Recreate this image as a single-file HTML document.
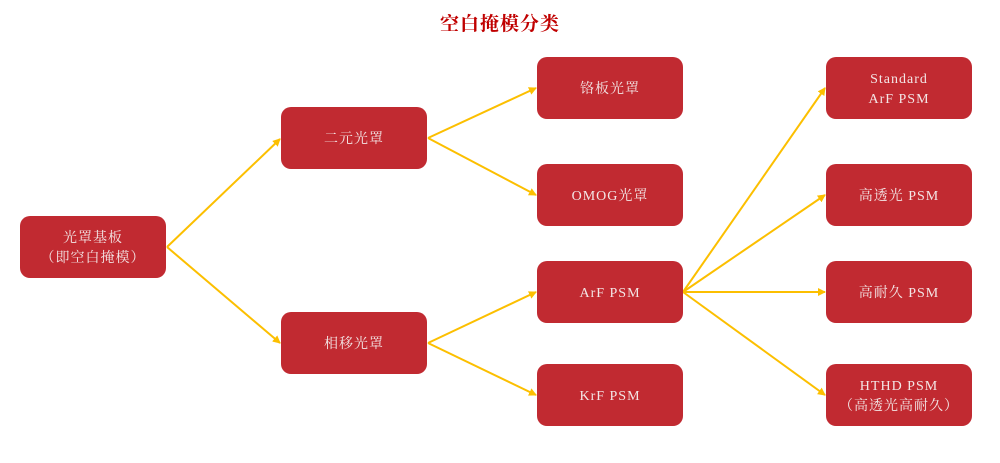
<!DOCTYPE html>
<html><head><meta charset="utf-8"><style>
body{margin:0;width:1000px;height:463px;background:#fff;position:relative;overflow:hidden;font-family:"Liberation Serif","Noto Serif CJK SC",serif}
.t{position:absolute;left:0;width:1000px;top:9px;text-align:center;color:#c00000;font-weight:bold;font-size:19px;letter-spacing:1px}
.b{position:absolute;width:146px;height:62px;box-sizing:border-box;padding-top:4px;background:#c12a31;border-radius:10px;color:#f3e6e6;display:flex;align-items:center;justify-content:center;text-align:center;font-size:14px;line-height:20px;letter-spacing:1px}
svg{position:absolute;left:0;top:0}
</style></head><body>
<div class="t">空白掩模分类</div>
<svg width="1000" height="463"><defs><marker id="a" markerWidth="8" markerHeight="8" refX="7" refY="4" orient="auto" markerUnits="userSpaceOnUse"><path d="M0,0 L8,4 L0,8 Z" fill="#fcbf00"/></marker></defs>
<g stroke="#fcbf00" stroke-width="2" fill="none" marker-end="url(#a)">
<line x1="167" y1="247" x2="280" y2="139"/>
<line x1="167" y1="247" x2="280" y2="343"/>
<line x1="428" y1="138" x2="536" y2="88"/>
<line x1="428" y1="138" x2="536" y2="195"/>
<line x1="428" y1="343" x2="536" y2="292"/>
<line x1="428" y1="343" x2="536" y2="395"/>
<line x1="683" y1="292" x2="825" y2="88"/>
<line x1="683" y1="292" x2="825" y2="195"/>
<line x1="683" y1="292" x2="825" y2="292"/>
<line x1="683" y1="292" x2="825" y2="395"/>
</g></svg>
<div class="b" style="left:20px;top:216px">光罩基板<br>（即空白掩模）</div>
<div class="b" style="left:281px;top:107px">二元光罩</div>
<div class="b" style="left:281px;top:312px">相移光罩</div>
<div class="b" style="left:537px;top:57px">铬板光罩</div>
<div class="b" style="left:537px;top:164px">OMOG光罩</div>
<div class="b" style="left:537px;top:261px">ArF PSM</div>
<div class="b" style="left:537px;top:364px">KrF PSM</div>
<div class="b" style="left:826px;top:57px">Standard<br>ArF PSM</div>
<div class="b" style="left:826px;top:164px">高透光 PSM</div>
<div class="b" style="left:826px;top:261px">高耐久 PSM</div>
<div class="b" style="left:826px;top:364px">HTHD PSM<br>（高透光高耐久）</div>
</body></html>
